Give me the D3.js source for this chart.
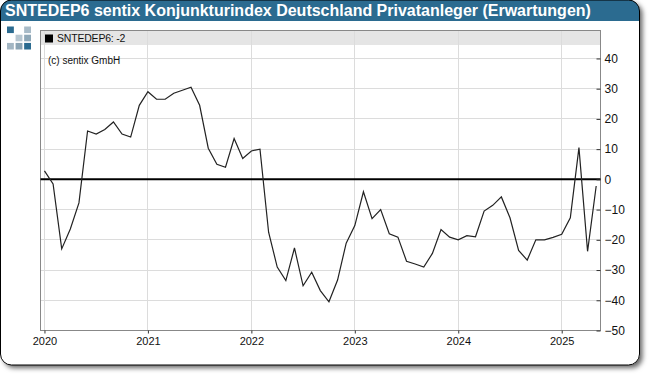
<!DOCTYPE html>
<html>
<head>
<meta charset="utf-8">
<script src="https://cdn.jsdelivr.net/npm/d3@7"></script>
<style>
    html, body { margin: 0; padding: 0; background: #fff; }
    svg { display: block; }
    text { font-family: "Liberation Sans", Arial, sans-serif; fill: #111; }
    .axis path { display: none; }
    .axis line { stroke: #333; }
    .axis text { font-size: 12px; }
</style>
</head>
<body>
<svg id="chart"></svg>
<script>
const titleText = 'SNTEDEP6 sentix Konjunkturindex Deutschland Privatanleger (Erwartungen)';
const legendText = 'SNTEDEP6: -2';
const creditText = '(c) sentix GmbH';

const yearLabels = ['2020', '2021', '2022', '2023', '2024', '2025'];
const yearTickIndex = [0, 12, 24, 36, 48, 60];
const yTicks = [40, 30, 20, 10, 0, -10, -20, -30, -40, -50];

// monthly readings, jan 2020 - may 2025
const values2020 = [2.8, -1.5, -23, -16.4, -7.8, 16, 15, 16.5, 19, 15, 14, 24.5];
const values2021 = [29, 26.5, 26.5, 28.5, 29.5, 30.5, 24.5, 10.3, 5, 4, 13.5, 6.9];
const values2022 = [9.4, 10, -17.5, -29, -33.5, -22.7, -35.2, -30.7, -36.8, -40.5, -33.3, -21.1];
const values2023 = [-15.3, -4.1, -13, -10, -18, -19.1, -27.1, -28, -29, -24.5, -16.6, -19.1];
const values2024 = [-20, -18.6, -19, -10.5, -8.6, -5.8, -12.7, -23.5, -26.7, -20, -20, -19.2];
const values2025 = [-18.2, -12.7, 10.5, -23.8, -2.2];
const values = [...values2020, ...values2021, ...values2022, ...values2023, ...values2024, ...values2025];

const logoCells = [
    {col: 0, row: 0, color: '#2b6b90'},
    {col: 2, row: 0, color: '#a8bbc8'},
    {col: 1, row: 1, color: '#b7c6d0'},
    {col: 2, row: 1, color: '#8fa8b8'},
    {col: 0, row: 2, color: '#a3b6c3'},
    {col: 1, row: 2, color: '#8ba4b4'},
    {col: 2, row: 2, color: '#2b6b90'}
];

const width = 650, height = 376;
const margin = {top: 30.5, right: 49.5, bottom: 45.5, left: 40.5};

const svg = d3.select('#chart').attr('width', width).attr('height', height);

const defs = svg.append('defs');
const shadow = defs.append('filter').attr('id', 'shadow')
    .attr('x', '-3%').attr('y', '-3%').attr('width', '106%').attr('height', '110%');
shadow.append('feDropShadow').attr('dx', 3).attr('dy', 3).attr('stdDeviation', 2.5)
    .attr('flood-color', '#000').attr('flood-opacity', 0.6);
defs.append('clipPath').attr('id', 'frameClip').append('rect')
    .attr('x', 0.5).attr('y', 0).attr('width', 639).attr('height', 365).attr('rx', 11);

// outer panel
svg.append('rect').attr('x', 0.5).attr('y', 0).attr('width', 639).attr('height', 365).attr('rx', 11)
    .attr('fill', '#fff').attr('filter', 'url(#shadow)');
svg.append('rect').attr('x', 0).attr('y', 0).attr('width', 640).attr('height', 21)
    .attr('fill', '#2b6b90').attr('clip-path', 'url(#frameClip)');
svg.append('rect').attr('x', 0.5).attr('y', 0).attr('width', 639).attr('height', 365).attr('rx', 11)
    .attr('fill', 'none').attr('stroke', '#000');

svg.append('text').attr('x', 5).attr('y', 16).style('font-size', '16px').style('font-weight', 'bold')
    .style('fill', '#fff').text(titleText);

const logoX = d3.scaleBand().domain([0, 1, 2]).range([7, 31]).paddingInner(0.2);
const logoY = d3.scaleBand().domain([0, 1, 2]).range([26.5, 49.5]).paddingInner(0.2);
svg.append('g').selectAll('rect').data(logoCells).join('rect')
    .attr('x', d => logoX(d.col)).attr('y', d => logoY(d.row))
    .attr('width', logoX.bandwidth()).attr('height', logoY.bandwidth())
    .attr('fill', d => d.color);

const innerW = width - margin.left - margin.right;
const innerH = height - margin.top - margin.bottom;

const xScale = d3.scaleLinear().domain([-0.46, 64.5]).range([0, innerW]);
const yScale = d3.scaleLinear().domain([-50, 49.25]).range([innerH, 0]);

const chart = svg.append('g').attr('transform', `translate(${margin.left},${margin.top})`);

chart.append('rect').attr('width', innerW).attr('height', 14.5).attr('fill', '#e5e5e5');

// grid
chart.append('g').selectAll('line').data(yTicks.filter(d => d !== -50)).join('line')
    .attr('x1', 0).attr('x2', innerW)
    .attr('y1', d => Math.round(yScale(d))).attr('y2', d => Math.round(yScale(d)))
    .attr('stroke', '#dcdcdc');
chart.append('g').selectAll('line').data(yearTickIndex).join('line')
    .attr('x1', d => Math.round(xScale(d))).attr('x2', d => Math.round(xScale(d)))
    .attr('y1', 0).attr('y2', innerH)
    .attr('stroke', '#dcdcdc');

// frame
chart.append('rect').attr('width', innerW).attr('height', innerH)
    .attr('fill', 'none').attr('stroke', '#888');

// zero line
chart.append('line').attr('x1', 0).attr('x2', innerW)
    .attr('y1', yScale(0)).attr('y2', yScale(0))
    .attr('stroke', '#000').attr('stroke-width', 2);

const line = d3.line().x((d, i) => xScale(i)).y(d => yScale(d));
chart.append('path').datum(values).attr('d', line)
    .attr('fill', 'none').attr('stroke', '#222').attr('stroke-width', 1.2);

// axes
const xAxis = d3.axisBottom(xScale).tickValues(yearTickIndex)
    .tickFormat((d, i) => yearLabels[i]).tickSize(3).tickPadding(4);
chart.append('g').attr('class', 'axis').attr('transform', `translate(0,${innerH})`).call(xAxis)
    .selectAll('text').style('font-size', '11px');

const yAxis = d3.axisRight(yScale).tickValues(yTicks).tickSize(0).tickPadding(4);
const yAxisG = chart.append('g').attr('class', 'axis').attr('transform', `translate(${innerW},0)`).call(yAxis);
yAxisG.selectAll('.tick').append('line').attr('x1', -4).attr('x2', 0);

// legend
chart.append('rect').attr('x', 4.5).attr('y', 4).attr('width', 8).attr('height', 8).attr('fill', '#000');
chart.append('text').attr('x', 16.5).attr('y', 11.5).style('font-size', '10.5px').style('letter-spacing', '-0.2px').text(legendText);
chart.append('text').attr('x', 7.5).attr('y', 33.5).style('font-size', '10px')
    .text(creditText);
</script>
</body>
</html>
